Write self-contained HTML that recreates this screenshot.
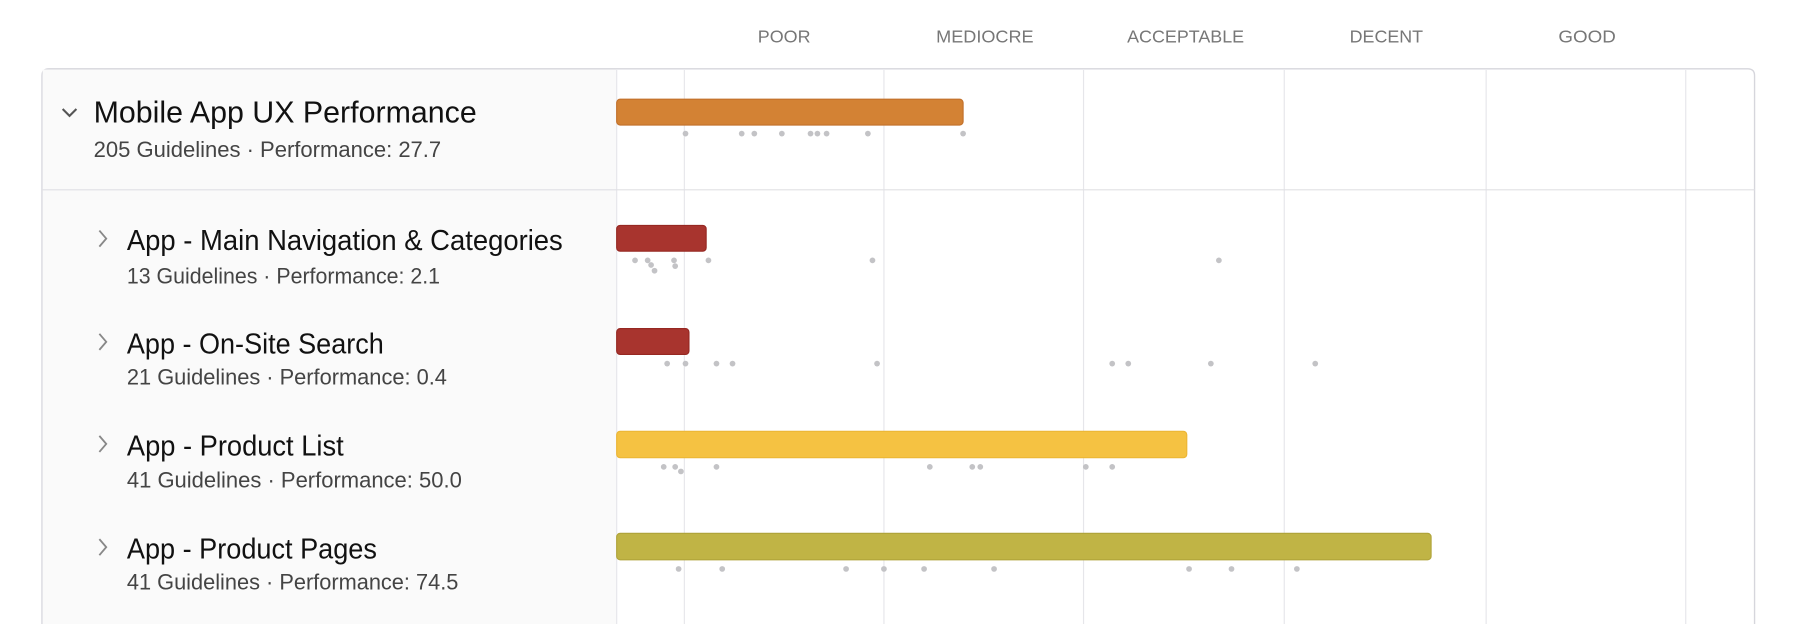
<!DOCTYPE html>
<html><head><meta charset="utf-8"><style>html,body{margin:0;padding:0;background:#fff;}svg{display:block}</style></head>
<body>
<svg width="1800" height="624" viewBox="0 0 1568 544" xmlns="http://www.w3.org/2000/svg" font-family="Liberation Sans, sans-serif">
<rect width="1568" height="544" fill="#fff"/>
<g fill="#777" font-size="15" text-anchor="middle">
<text x="683" y="37" textLength="46" lengthAdjust="spacingAndGlyphs">POOR</text><text x="858" y="37" textLength="85" lengthAdjust="spacingAndGlyphs">MEDIOCRE</text><text x="1033" y="37" textLength="102" lengthAdjust="spacingAndGlyphs">ACCEPTABLE</text><text x="1208" y="37" textLength="64" lengthAdjust="spacingAndGlyphs">DECENT</text><text x="1383" y="37" textLength="50" lengthAdjust="spacingAndGlyphs">GOOD</text>
</g>
<path d="M36,560 V66 Q36,60 42,60 H1523 Q1529,60 1529,66 V560" fill="#fff" stroke="#d6d6dc" stroke-width="1.2"/>
<rect x="36.6" y="60.6" width="500.4" height="490" fill="#fafafa"/>
<g stroke="#e6e6ea" stroke-width="1">
<line x1="537" y1="61" x2="537" y2="544"/>
<line x1="596" y1="61" x2="596" y2="544"/><line x1="770" y1="61" x2="770" y2="544"/><line x1="944" y1="61" x2="944" y2="544"/><line x1="1119" y1="61" x2="1119" y2="544"/><line x1="1295" y1="61" x2="1295" y2="544"/><line x1="1469" y1="61" x2="1469" y2="544"/>
<line x1="36" y1="165.5" x2="1529" y2="165.5" stroke="#e0e0e4"/>
</g>
<g fill="none" stroke="#555" stroke-width="1.8"><path d="M54,95 L60,101 L66,95"/></g>
<g fill="none" stroke="#888" stroke-width="1.6"><path d="M86,201 L92,208 L86,215"/><path d="M86,291 L92,298 L86,305"/><path d="M86,380 L92,387 L86,394"/><path d="M86,470 L92,477 L86,484"/></g>
<g fill="#111" lengthAdjust="spacingAndGlyphs">
<text x="81" y="107" font-size="27" textLength="334" lengthAdjust="spacingAndGlyphs">Mobile App UX Performance</text>
<text x="110" y="218" font-size="25" textLength="380" lengthAdjust="spacingAndGlyphs">App - Main Navigation &amp; Categories</text>
<text x="110" y="308" font-size="25" textLength="224" lengthAdjust="spacingAndGlyphs">App - On-Site Search</text>
<text x="110" y="397" font-size="25" textLength="189" lengthAdjust="spacingAndGlyphs">App - Product List</text>
<text x="110" y="487" font-size="25" textLength="218" lengthAdjust="spacingAndGlyphs">App - Product Pages</text>
</g>
<g fill="#444" font-size="19">
<text x="81" y="137" textLength="303" lengthAdjust="spacingAndGlyphs">205 Guidelines · Performance: 27.7</text>
<text x="110" y="247" textLength="273" lengthAdjust="spacingAndGlyphs">13 Guidelines · Performance: 2.1</text>
<text x="110" y="335" textLength="279" lengthAdjust="spacingAndGlyphs">21 Guidelines · Performance: 0.4</text>
<text x="110" y="425" textLength="292" lengthAdjust="spacingAndGlyphs">41 Guidelines · Performance: 50.0</text>
<text x="110" y="514" textLength="289" lengthAdjust="spacingAndGlyphs">41 Guidelines · Performance: 74.5</text>
</g>
<rect x="537" y="86.5" width="302" height="22.5" rx="3" fill="#d38234" stroke="#c2702a"/>
<rect x="537" y="196.5" width="78" height="22.5" rx="3" fill="#a8342e" stroke="#962822"/>
<rect x="537" y="286.5" width="63" height="22.5" rx="3" fill="#a8342e" stroke="#962822"/>
<rect x="537" y="376" width="497" height="23" rx="3" fill="#f5c242" stroke="#ecb635"/>
<rect x="537" y="465" width="710" height="23" rx="3" fill="#c0b445" stroke="#b0a43a"/>
<g fill="#c3c3c6">
<circle cx="597" cy="116.5" r="2.5"/><circle cx="646" cy="116.5" r="2.5"/><circle cx="657" cy="116.5" r="2.5"/><circle cx="681" cy="116.5" r="2.5"/><circle cx="706" cy="116.5" r="2.5"/><circle cx="712" cy="116.5" r="2.5"/><circle cx="720" cy="116.5" r="2.5"/><circle cx="756" cy="116.5" r="2.5"/><circle cx="839" cy="116.5" r="2.5"/>
<circle cx="553" cy="227" r="2.5"/><circle cx="564" cy="227" r="2.5"/><circle cx="567" cy="231" r="2.5"/><circle cx="570" cy="236" r="2.5"/><circle cx="587" cy="227" r="2.5"/><circle cx="588" cy="232" r="2.5"/><circle cx="617" cy="227" r="2.5"/><circle cx="760" cy="227" r="2.5"/><circle cx="1062" cy="227" r="2.5"/>
<circle cx="581" cy="317" r="2.5"/><circle cx="597" cy="317" r="2.5"/><circle cx="624" cy="317" r="2.5"/><circle cx="638" cy="317" r="2.5"/><circle cx="764" cy="317" r="2.5"/><circle cx="969" cy="317" r="2.5"/><circle cx="983" cy="317" r="2.5"/><circle cx="1055" cy="317" r="2.5"/><circle cx="1146" cy="317" r="2.5"/>
<circle cx="578" cy="407" r="2.5"/><circle cx="588" cy="407" r="2.5"/><circle cx="593" cy="411" r="2.5"/><circle cx="624" cy="407" r="2.5"/><circle cx="810" cy="407" r="2.5"/><circle cx="847" cy="407" r="2.5"/><circle cx="854" cy="407" r="2.5"/><circle cx="946" cy="407" r="2.5"/><circle cx="969" cy="407" r="2.5"/>
<circle cx="591" cy="496" r="2.5"/><circle cx="629" cy="496" r="2.5"/><circle cx="737" cy="496" r="2.5"/><circle cx="770" cy="496" r="2.5"/><circle cx="805" cy="496" r="2.5"/><circle cx="866" cy="496" r="2.5"/><circle cx="1036" cy="496" r="2.5"/><circle cx="1073" cy="496" r="2.5"/><circle cx="1130" cy="496" r="2.5"/>
</g>
</svg>
</body></html>
